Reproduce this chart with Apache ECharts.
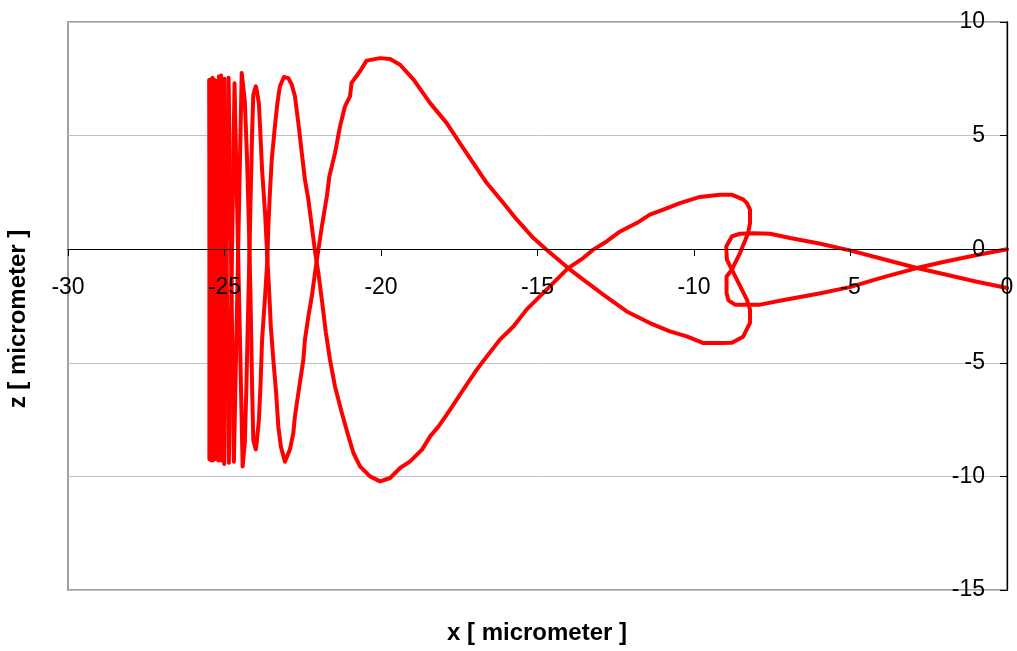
<!DOCTYPE html>
<html>
<head>
<meta charset="utf-8">
<script src="https://cdn.jsdelivr.net/npm/echarts@6/dist/echarts.min.js"></script>
<style>
  html, body { margin: 0; padding: 0; background: #fff; }
  #chart { width: 1017px; height: 651px; }
</style>
</head>
<body>
<div id="chart"></div>
<script>
// Trajectory starting at z = -1.7 um
const xA = [0, -1, -2, -2.88, -4, -5.02, -6, -6.93, -7.57, -8.1, -8.53, -8.79, -8.97, -8.95, -8.79, -8.55, -8.31, -8.21, -8.21, -8.43, -8.79, -9.17, -9.7, -10.23, -10.77, -11.41, -12.15, -12.9, -13.54, -14.02, -14.71, -15.13, -15.66, -16.09, -16.62, -17.05, -17.48, -17.9, -18.43, -18.96, -19.39, -19.71, -20.03, -20.46, -20.67, -20.94, -20.99, -21.15, -21.31, -21.47, -21.65, -21.73, -21.89, -22.08, -22.21, -22.32, -22.43, -22.48, -22.64, -22.75, -22.8, -22.91, -23.07,
  -23.2, -23.28, -23.35, -23.44, -23.52, -23.57, -23.63, -23.7, -23.8, -23.85, -23.9, -23.97, -24.0,
  -24.08, -24.12, -24.17, -24.2, -24.25, -24.3, -24.35, -24.42,
  -24.68, -24.86, -25.0, -25.1, -25.18, -25.26, -25.32, -25.37, -25.41, -25.44, -25.46, -25.48];
const zA = [-1.71, -1.42, -1.1, -0.83, -0.42, -0.05, 0.25, 0.49, 0.68, 0.7, 0.68, 0.56, 0.12, -0.46, -0.9, -1.56, -2.22, -2.66, -3.24, -3.85, -4.12, -4.13, -4.13, -3.84, -3.62, -3.25, -2.74, -2.0, -1.34, -0.83, -0.02, 0.49, 1.3, 2.03, 2.91, 3.79, 4.67, 5.55, 6.43, 7.46, 8.12, 8.37, 8.41, 8.3, 7.83, 7.32, 6.73, 6.29, 5.4, 4.23, 3.2, 2.32, 1.0, -0.76, -2.08, -2.96, -3.98, -4.86, -6.33, -7.36, -8.09, -8.82, -9.35,
  -8.68, -7.8, -6.33, -4.86, -3.4, -1.93, -0.46, 1.5, 3.5, 5.0, 6.4, 7.0, 7.17,
  6.8, 5.0, 2.0, 0, -3.0, -6.0, -8.5, -9.56,
  7.3, -9.4, 7.5, -9.3, 7.6, -9.25, 7.45, -9.3, 7.5, -9.2, 7.45, -9.25];

// Trajectory starting at z = 0 um
const xB = [0, -1, -2, -2.88, -4, -5.02, -6, -7, -7.89, -8.3, -8.69, -8.9, -8.96, -8.96, -8.79, -8.53, -8.27, -8.21, -8.21, -8.31, -8.42, -8.8, -9.17, -9.81, -10.45, -10.98, -11.41, -11.83, -12.36, -12.79, -13.22, -13.54, -14.02, -14.5, -15.03, -15.35, -15.77, -16.2, -16.62, -16.94, -17.37, -17.79, -18.16, -18.43, -18.69, -19.07, -19.39, -19.71, -20.03, -20.35, -20.67, -20.88, -21.04, -21.25, -21.47, -21.63, -21.76, -21.89, -22.0, -22.1, -22.21, -22.32, -22.43, -22.53, -22.64, -22.75, -22.85, -22.96, -23.1,
  -23.23, -23.31, -23.39, -23.49, -23.55, -23.6, -23.63, -23.7, -23.8, -23.85, -23.9, -23.97, -24.0,
  -24.08, -24.12, -24.17, -24.22, -24.28, -24.35, -24.45,
  -24.7, -24.87, -25.01, -25.11, -25.19, -25.27, -25.33, -25.38, -25.42, -25.45, -25.47, -25.49];
const zB = [0, -0.27, -0.55, -0.83, -1.25, -1.67, -1.95, -2.2, -2.44, -2.45, -2.44, -2.25, -1.94, -1.2, -0.9, -0.17, 0.71, 1.15, 1.74, 2.03, 2.18, 2.4, 2.4, 2.3, 2.03, 1.74, 1.52, 1.15, 0.78, 0.34, -0.02, -0.39, -0.83, -1.49, -2.22, -2.66, -3.4, -3.98, -4.72, -5.3, -6.18, -7.06, -7.8, -8.24, -8.82, -9.34, -9.63, -10.07, -10.22, -10.0, -9.56, -8.97, -8.24, -7.21, -6.04, -4.86, -3.69, -2.22, -1.05, -0.17, 1.0, 2.18, 3.06, 4.23, 5.55, 6.73, 7.24, 7.53, 7.58,
  7.17, 6.43, 5.4, 3.94, 2.47, 1.0, -0.46, -2.0, -4.0, -6.0, -7.5, -8.5, -8.82,
  -8.4, -6.0, -2.0, 1.0, 4.0, 6.5, 7.76,
  -9.35, 7.55, -9.45, 7.65, -9.3, 7.4, -9.2, 7.55, -9.3, 7.4, -9.2, 7.45];

const xTicks = [-30, -25, -20, -15, -10, -5, 0];
const zTicks = [-15, -10, -5, 0, 5, 10];
const xTitle = 'x [ micrometer ]';
const zTitle = 'z [ micrometer ]';

const pairs = (xs, zs) => xs.map((x, i) => [x, zs[i]]);

const chart = echarts.init(document.getElementById('chart'), null, { renderer: 'canvas' });
const font = 'Liberation Sans, Arial, sans-serif';
const lineStyle = { color: '#ff0000', width: 4, join: 'round', cap: 'round' };

const zAxisBase = {
  type: 'value', min: zTicks[0], max: zTicks[zTicks.length - 1], interval: 5,
  position: 'left', offset: -939
};

// plot box: x 68..1007, y 22..590; axes cross at (0, 0)
chart.setOption({
  animation: false,
  backgroundColor: '#ffffff',
  grid: { left: 68, right: 10, top: 22, bottom: 61, show: true, borderColor: '#a0a0a0', borderWidth: 2 },
  xAxis: {
    type: 'value', min: xTicks[0], max: xTicks[xTicks.length - 1], interval: 5,
    position: 'bottom', offset: -341, z: 10,
    axisLine: { onZero: false, lineStyle: { color: '#000', width: 1 } },
    axisTick: { show: true, length: 7, lineStyle: { color: '#000' } },
    axisLabel: { fontSize: 23, color: '#000', fontFamily: font, margin: 27 },
    splitLine: { show: false }
  },
  yAxis: [
    // gridlines, drawn beneath the trajectories
    Object.assign({}, zAxisBase, {
      z: 0,
      axisLine: { show: false }, axisTick: { show: false }, axisLabel: { show: false },
      splitLine: { show: true, lineStyle: { color: '#c0c0c0', width: 1 } }
    }),
    // axis line, ticks and labels, drawn on top
    Object.assign({}, zAxisBase, {
      z: 10,
      axisLine: { onZero: false, lineStyle: { color: '#000', width: 1.3 } },
      axisTick: { show: true, length: 7, lineStyle: { color: '#000' } },
      axisLabel: { fontSize: 23, color: '#000', fontFamily: font, margin: 22 },
      splitLine: { show: false }
    })
  ],
  graphic: [
    { type: 'text', position: [537, 633],
      style: { text: xTitle, font: 'bold 24px ' + font, fill: '#000', textAlign: 'center', textVerticalAlign: 'middle' } },
    { type: 'text', position: [18, 319], rotation: Math.PI / 2,
      style: { text: zTitle, font: 'bold 24px ' + font, fill: '#000', textAlign: 'center', textVerticalAlign: 'middle' } }
  ],
  series: [
    { type: 'line', yAxisIndex: 0, data: pairs(xA, zA), showSymbol: false, lineStyle: lineStyle, z: 3 },
    { type: 'line', yAxisIndex: 0, data: pairs(xB, zB), showSymbol: false, lineStyle: lineStyle, z: 3 }
  ]
});
</script>
</body>
</html>
